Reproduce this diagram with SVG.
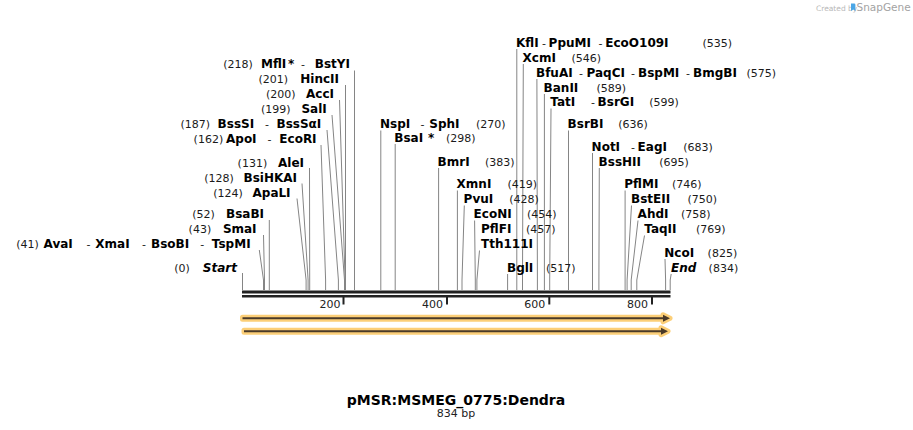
<svg xmlns="http://www.w3.org/2000/svg" width="913" height="430" viewBox="0 0 913 430">
<style>
.n{font-family:"DejaVu Sans",Verdana,sans-serif;font-weight:bold;font-size:12px;fill:#000}
.i{font-style:italic}
.p{font-family:"DejaVu Sans",Verdana,sans-serif;font-size:11px;fill:#1a1a1a}
.e{text-anchor:end}
.c{fill:none;stroke:#858585;stroke-width:1}
.t{font-family:"DejaVu Sans",Verdana,sans-serif;font-size:11px;fill:#222;text-anchor:end}
.halo{fill:#fccf78;stroke:#fccf78;stroke-width:5;stroke-linejoin:round}
.dark{fill:#4a3a28}
</style>
<rect width="913" height="430" fill="#fff"/>

<g id="logo">
<text x="816" y="10.5" font-family="'DejaVu Sans',sans-serif" font-size="7.5" fill="#b8b8b8">Created by</text>
<path d="M851,3.5 h3.2 a1.2,1.2 0 0 1 1.2,1.2 v6.3 l-2.2,-1.6 l-2.2,1.6 z" fill="#4aa6e6"/>
<text x="856.5" y="11" font-family="'DejaVu Sans',sans-serif" font-size="10.5" fill="#a3a3a3">SnapGene</text>
</g>

<g id="connectors">
<path class="c" d="M242.5,273 V290"/>
<path class="c" d="M259.3,250 L263.5,280 V290"/>
<path class="c" d="M263.5,235 L264.5,280 V290"/>
<path class="c" d="M269.3,220 V290"/>
<path class="c" d="M297,198.5 L306.1,280 V290"/>
<path class="c" d="M302,183.5 L308.1,280 V290"/>
<path class="c" d="M309.5,168 L309.7,280 V290"/>
<path class="c" d="M321,145 L325.6,280 V290"/>
<path class="c" d="M327,130 L338.4,280 V290"/>
<path class="c" d="M332,115 L344.5,280 V290"/>
<path class="c" d="M339.5,100 L345.1,280 V290"/>
<path class="c" d="M345.5,85 V290"/>
<path class="c" d="M354.5,70.5 V290"/>
<path class="c" d="M380.8,130.5 V290"/>
<path class="c" d="M395.2,144 V290"/>
<path class="c" d="M438.6,168 V290"/>
<path class="c" d="M457.4,190.5 V290"/>
<path class="c" d="M464.3,205.5 L462,280 V290"/>
<path class="c" d="M474.6,220.5 L475.3,280 V290"/>
<path class="c" d="M479.5,250.5 L476.9,280 V290"/>
<path class="c" d="M507.6,274 V290"/>
<path class="c" d="M516.8,49 V290"/>
<path class="c" d="M523.3,64 L522.5,280 V290"/>
<path class="c" d="M536.9,79 L537.4,280 V290"/>
<path class="c" d="M544.4,94 V290"/>
<path class="c" d="M551,108.5 L549.7,280 V290"/>
<path class="c" d="M568.5,130.5 V290"/>
<path class="c" d="M592.5,153 V290"/>
<path class="c" d="M599.3,168 L598.9,280 V290"/>
<path class="c" d="M625.1,190.5 V290"/>
<path class="c" d="M631.5,205.5 L627.1,280 V290"/>
<path class="c" d="M638,220.5 L631.2,280 V290"/>
<path class="c" d="M644.5,235.5 L636.8,280 V290"/>
<path class="c" d="M665,259 L665.6,280 V290"/>
<path class="c" d="M671.2,274 L670.2,280 V290"/>
</g>

<g id="ruler">
<rect x="242" y="290.5" width="428.5" height="3" fill="#222"/>
<rect x="242" y="295" width="428.5" height="2.5" fill="#222"/>
<rect x="342.5" y="297" width="2" height="7.5" fill="#222"/>
<rect x="446" y="297" width="2" height="7.5" fill="#222"/>
<rect x="548.3" y="297" width="2" height="7.5" fill="#222"/>
<rect x="651" y="297" width="2" height="7.5" fill="#222"/>
<text class="t" x="340.5" y="308">200</text>
<text class="t" x="443" y="308">400</text>
<text class="t" x="545.3" y="308">600</text>
<text class="t" x="648" y="308">800</text>
</g>

<g id="feature1">
<polygon class="halo" points="242.5,317.3 663,317.3 663,314.8 670,318.3 663,321.8 663,319.3 242.5,319.3"/>
<polygon class="dark" points="242.5,317.3 663,317.3 663,314.8 670,318.3 663,321.8 663,319.3 242.5,319.3"/>
</g>
<g id="feature2">
<polygon class="halo" points="244,330.2 661,330.2 661,327.7 668,331.2 661,334.7 661,332.2 244,332.2"/>
<polygon class="dark" points="244,330.2 661,330.2 661,327.7 668,331.2 661,334.7 661,332.2 244,332.2"/>
</g>

<g id="l-MflI"><text class="p e" x="252.8" y="68">(218)</text><text class="n" x="261" y="68">MflI</text><text class="n" x="288" y="68">*</text><text class="p" x="301" y="68">-</text><text class="n e" x="350" y="68">BstYI</text></g>
<g id="l-HincII"><text class="p e" x="288" y="83">(201)</text><text class="n e" x="339" y="83">HincII</text></g>
<g id="l-AccI"><text class="p e" x="295.5" y="98">(200)</text><text class="n e" x="334" y="98">AccI</text></g>
<g id="l-SalI"><text class="p e" x="290.5" y="113">(199)</text><text class="n e" x="326.8" y="113">SalI</text></g>
<g id="l-BssSI"><text class="p e" x="210" y="128">(187)</text><text class="n" x="217.6" y="128">BssSI</text><text class="p" x="265" y="128">-</text><text class="n e" x="321.3" y="128">BssSαI</text></g>
<g id="l-ApoI"><text class="p e" x="223.2" y="143">(162)</text><text class="n" x="226" y="143">ApoI</text><text class="p" x="267.6" y="143">-</text><text class="n e" x="316.6" y="143">EcoRI</text></g>
<g id="l-AleI"><text class="p e" x="267.2" y="166.5">(131)</text><text class="n e" x="304" y="166.5">AleI</text></g>
<g id="l-BsiHKAI"><text class="p e" x="233.8" y="181.5">(128)</text><text class="n e" x="297" y="181.5">BsiHKAI</text></g>
<g id="l-ApaLI"><text class="p e" x="242.8" y="196.5">(124)</text><text class="n e" x="290.6" y="196.5">ApaLI</text></g>
<g id="l-BsaBI"><text class="p e" x="214.8" y="218">(52)</text><text class="n e" x="264" y="218">BsaBI</text></g>
<g id="l-SmaI"><text class="p e" x="211.2" y="233">(43)</text><text class="n e" x="256.6" y="233">SmaI</text></g>
<g id="l-AvaI"><text class="p e" x="38.8" y="248">(41)</text><text class="n" x="43.6" y="248">AvaI</text><text class="p" x="86.6" y="248">-</text><text class="n" x="95.3" y="248">XmaI</text><text class="p" x="142" y="248">-</text><text class="n" x="151" y="248">BsoBI</text><text class="p" x="200.3" y="248">-</text><text class="n e" x="250.6" y="248">TspMI</text></g>
<g id="l-Start"><text class="p e" x="189.8" y="271.5">(0)</text><text class="n i e" x="237" y="271.5">Start</text></g>

<g id="l-KflI"><text class="n" x="516" y="46.5">KflI</text><text class="p" x="542" y="46.5">-</text><text class="n" x="548.6" y="46.5">PpuMI</text><text class="p" x="598.6" y="46.5">-</text><text class="n" x="605.3" y="46.5">EcoO109I</text><text class="p" x="702.5" y="46.5">(535)</text></g>
<g id="l-XcmI"><text class="n" x="522.6" y="61.5">XcmI</text><text class="p" x="571.5" y="61.5">(546)</text></g>
<g id="l-BfuAI"><text class="n" x="536" y="76.5">BfuAI</text><text class="p" x="579" y="76.5">-</text><text class="n" x="586.5" y="76.5">PaqCI</text><text class="p" x="631" y="76.5">-</text><text class="n" x="638" y="76.5">BspMI</text><text class="p" x="686" y="76.5">-</text><text class="n" x="693" y="76.5">BmgBI</text><text class="p" x="746.5" y="76.5">(575)</text></g>
<g id="l-BanII"><text class="n" x="543.6" y="91.5">BanII</text><text class="p" x="596.5" y="91.5">(589)</text></g>
<g id="l-TatI"><text class="n" x="550.3" y="106">TatI</text><text class="p" x="591" y="106">-</text><text class="n" x="597.6" y="106">BsrGI</text><text class="p" x="649.2" y="106">(599)</text></g>
<g id="l-NspI"><text class="n" x="380" y="128">NspI</text><text class="p" x="420.5" y="128">-</text><text class="n" x="429.3" y="128">SphI</text><text class="p" x="476" y="128">(270)</text></g>
<g id="l-BsrBI"><text class="n" x="567.6" y="128">BsrBI</text><text class="p" x="618.2" y="128">(636)</text></g>
<g id="l-BsaI"><text class="n" x="394.3" y="141.5">BsaI</text><text class="n" x="428" y="141.5">*</text><text class="p" x="446" y="141.5">(298)</text></g>
<g id="l-NotI"><text class="n" x="591.6" y="150.5">NotI</text><text class="p" x="631" y="150.5">-</text><text class="n" x="637.6" y="150.5">EagI</text><text class="p" x="683.2" y="150.5">(683)</text></g>
<g id="l-BmrI"><text class="n" x="437.6" y="165.5">BmrI</text><text class="p" x="485" y="165.5">(383)</text></g>
<g id="l-BssHII"><text class="n" x="598.6" y="165.5">BssHII</text><text class="p" x="659.2" y="165.5">(695)</text></g>
<g id="l-XmnI"><text class="n" x="456.6" y="188">XmnI</text><text class="p" x="507.5" y="188">(419)</text></g>
<g id="l-PflMI"><text class="n" x="624.3" y="188">PflMI</text><text class="p" x="672" y="188">(746)</text></g>
<g id="l-PvuI"><text class="n" x="463.6" y="203">PvuI</text><text class="p" x="509.2" y="203">(428)</text></g>
<g id="l-BstEII"><text class="n" x="631" y="203">BstEII</text><text class="p" x="687.5" y="203">(750)</text></g>
<g id="l-EcoNI"><text class="n" x="473.6" y="218">EcoNI</text><text class="p" x="527" y="218">(454)</text></g>
<g id="l-AhdI"><text class="n" x="637.6" y="218">AhdI</text><text class="p" x="681" y="218">(758)</text></g>
<g id="l-PflFI"><text class="n" x="481" y="233">PflFI</text><text class="p" x="526" y="233">(457)</text><text class="n" x="481" y="248">Tth111I</text></g>
<g id="l-TaqII"><text class="n" x="644.3" y="233">TaqII</text><text class="p" x="696" y="233">(769)</text></g>
<g id="l-NcoI"><text class="n" x="664.3" y="256.5">NcoI</text><text class="p" x="707.6" y="256.5">(825)</text></g>
<g id="l-BglI"><text class="n" x="507" y="271.5">BglI</text><text class="p" x="546" y="271.5">(517)</text></g>
<g id="l-End"><text class="n i" x="671" y="271.5">End</text><text class="p" x="708.6" y="271.5">(834)</text></g>

<g id="title">
<text x="456" y="405" text-anchor="middle" font-family="'DejaVu Sans',Verdana,sans-serif" font-weight="bold" font-size="14" fill="#000">pMSR:MSMEG_0775:Dendra</text>
<text x="456" y="416.5" text-anchor="middle" font-family="'DejaVu Sans',Verdana,sans-serif" font-size="11" fill="#222">834 bp</text>
</g>
</svg>
